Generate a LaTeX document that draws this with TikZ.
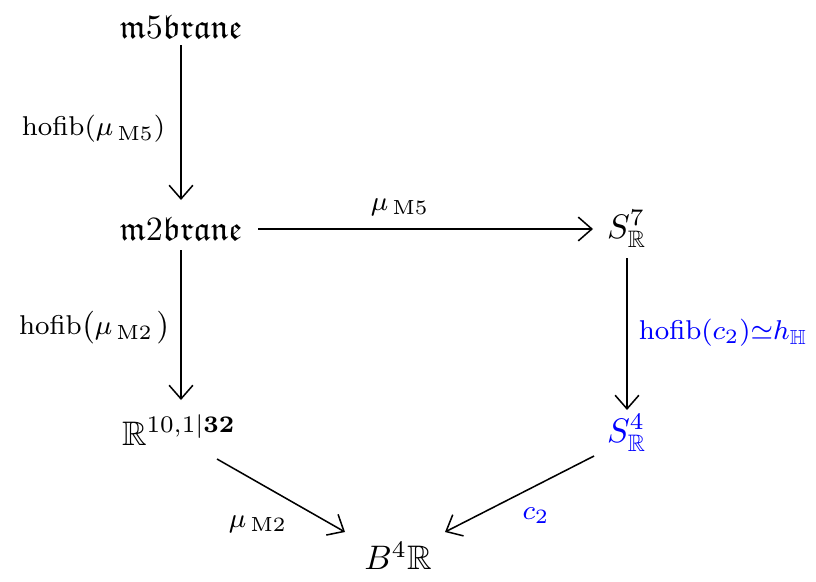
\documentclass[tikz,border=0pt]{standalone}
\usepackage{amsmath,amssymb}
\usetikzlibrary{arrows.meta}
\begin{document}
\begin{tikzpicture}[x=0.294pt,y=-0.294pt,
  obj/.style={inner sep=0pt},
  lab/.style={inner sep=0pt,font=\footnotesize},
  arr/.style={draw,line width=0.45pt,-{Straight Barb[length=4pt,width=7pt]}}]
\useasboundingbox (0,0) rectangle (816,581);
\node[obj] (m5) at (181,27) {$\mathfrak{m}5\mathfrak{brane}$};
\node[obj] (m2) at (181,229) {$\mathfrak{m}2\mathfrak{brane}$};
\node[obj] (s7) at (627,229) {$S^7_{\mathbb{R}}$};
\node[obj] (r) at (179,430) {$\mathbb{R}^{10,1\vert\mathbf{32}}$};
\node[obj,text=blue] (s4) at (627,433) {$S^4_{\mathbb{R}}$};
\node[obj] (b) at (398,556) {$B^4\mathbb{R}$};
\coordinate (a1s) at (181,45); \coordinate (a1e) at (181,200);
\coordinate (a2s) at (181,250); \coordinate (a2e) at (181,400);
\coordinate (a3s) at (258,229); \coordinate (a3e) at (593,229);
\coordinate (a4s) at (627,258); \coordinate (a4e) at (627,410);
\coordinate (a5s) at (217,459); \coordinate (a5e) at (345,532);
\coordinate (a6s) at (594,456); \coordinate (a6e) at (445,532);
\draw[arr] (a1s) -- (a1e) node[lab,anchor=east] (l1) at (166,129) {$\mathrm{hofib}(\mu_{\,\mathrm{M5}})$};
\draw[arr] (a2s) -- (a2e) node[lab,anchor=east] (l2) at (172,328) {$\mathrm{hofib}\big(\mu_{\,\mathrm{M2}}\,\big)$};
\draw[arr] (a3s) -- (a3e) node[lab] (l3) at (400,207) {$\mu_{\,\mathrm{M5}}$};
\draw[arr] (a4s) -- (a4e) node[lab,anchor=west,text=blue] (l4) at (638,333) {$\mathrm{hofib}(c_2){\simeq}h_{\mathbb{H}}$};
\draw[arr] (a5s) -- (a5e) node[lab] (l5) at (258,524) {$\mu_{\,\mathrm{M2}}$};
\draw[arr] (a6s) -- (a6e) node[lab,text=blue] (l6) at (536,516) {$c_2$};
\end{tikzpicture}
\end{document}
